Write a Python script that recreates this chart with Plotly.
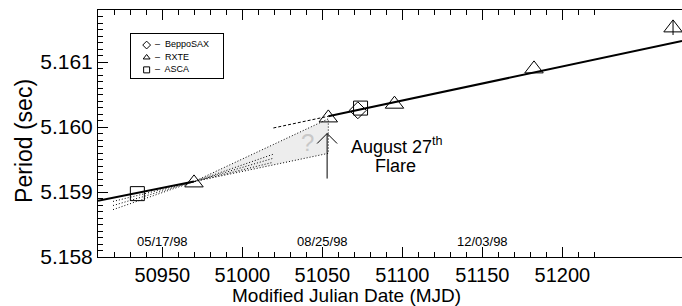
import plotly.graph_objects as go

# ---------------- data ----------------
rxte_mjd = [50969.8, 51053.75, 51095.1, 51182.3, 51269.2]
rxte_p = [5.15914, 5.16014, 5.160351, 5.160894, 5.161525]
rxte_err = [0, 0, 0, 0, 0.00011]

asca_mjd = [50934.4, 51073.9]
asca_p = [5.158975, 5.160291]

sax_mjd = [51072.2]
sax_p = [5.160257]

# solid fits (pre- and post-flare)
fit1_mjd = [50909.8, 50969.8]
fit1_p = [5.158865, 5.159160]
fit2_mjd = [51053.75, 51274.8]
fit2_p = [5.160165, 5.161323]
# dashed backward extrapolation of post-flare fit
ext2_mjd = [51019.4, 51053.75]
ext2_p = [5.159985, 5.160165]

# dotted fan of pre-flare solutions
fan_mjd = [50919.2, 51019.2]
fan_p = [[5.158729, 5.159580], [5.158792, 5.159518], [5.158855, 5.159457]]

# uncertainty wedge up to the flare
wedge_mjd = [50969.8, 51053.75, 51053.75, 50969.8]
wedge_p = [5.15916, 5.160126, 5.159595, 5.15916]

# flare arrow
flare_mjd = 51053.0
arrow_p = [5.159207, 5.159900]

# axis ticks
x_major = [50950, 51000, 51050, 51100, 51150, 51200]
x_minor = [v for v in range(50920, 51221, 10) if v not in x_major]
y_major = [5.158, 5.159, 5.160, 5.161]
y_ticktext = ["5.158", "5.159", "5.160", "5.161"]
y_minor = [round(5.158 + i * 0.0001, 4) for i in range(0, 39) if i % 10 != 0]

date_labels = ["05/17/98", "08/25/98", "12/03/98"]
date_mjd = [50950, 51050, 51150]

legend_names = ["BeppoSAX", "RXTE", "ASCA"]
legend_symbols = ["diamond-open", "triangle-up-open", "square-open"]

FONT = "Liberation Sans, Arial, sans-serif"

fig = go.Figure()

# wedge fill
fig.add_trace(go.Scatter(x=wedge_mjd, y=wedge_p, mode="lines", fill="toself",
                         fillcolor="#ededed", line=dict(width=0), hoverinfo="skip",
                         showlegend=False))
# wedge edges (dotted)
fig.add_trace(go.Scatter(x=wedge_mjd, y=wedge_p, mode="lines",
                         line=dict(color="black", width=1, dash="1px,2px"),
                         showlegend=False))
# fan lines
for fp in fan_p:
    fig.add_trace(go.Scatter(x=fan_mjd, y=fp, mode="lines",
                             line=dict(color="black", width=1, dash="1px,2px"),
                             showlegend=False))
# dashed extension
fig.add_trace(go.Scatter(x=ext2_mjd, y=ext2_p, mode="lines",
                         line=dict(color="black", width=1, dash="3px,2px"),
                         showlegend=False))
# solid fits
fig.add_trace(go.Scatter(x=fit1_mjd, y=fit1_p, mode="lines",
                         line=dict(color="black", width=2), showlegend=False))
fig.add_trace(go.Scatter(x=fit2_mjd, y=fit2_p, mode="lines",
                         line=dict(color="black", width=2), showlegend=False))

# arrow (shaft + open head)
dx = 6.25
dy = 0.000154
arrow_x = [flare_mjd, flare_mjd, None, flare_mjd - dx, flare_mjd, flare_mjd + dx]
arrow_y = [arrow_p[0], arrow_p[1], None, arrow_p[1] - dy, arrow_p[1], arrow_p[1] - dy]
fig.add_trace(go.Scatter(x=arrow_x, y=arrow_y, mode="lines",
                         line=dict(color="black", width=1), showlegend=False))

# markers
fig.add_trace(go.Scatter(x=asca_mjd, y=asca_p, mode="markers",
                         marker=dict(symbol="square-open", size=14, color="black",
                                     line=dict(width=1)), showlegend=False))
fig.add_trace(go.Scatter(x=sax_mjd, y=sax_p, mode="markers",
                         marker=dict(symbol="diamond-open", size=13, color="black",
                                     line=dict(width=1)), showlegend=False))
fig.add_trace(go.Scatter(x=rxte_mjd, y=rxte_p, mode="markers",
                         marker=dict(symbol="triangle-up-open", size=16, color="black",
                                     line=dict(width=1)),
                         error_y=dict(type="data", array=rxte_err, width=0,
                                      color="black", thickness=1),
                         showlegend=False))

# manual legend in a boxed inset
leg_y = [0.75, 0.47, 0.19]
fig.add_trace(go.Scatter(x=[0.17] * 3, y=leg_y, mode="markers",
                         marker=dict(symbol=legend_symbols, size=6, color="black",
                                     line=dict(width=1)),
                         xaxis="x2", yaxis="y2", showlegend=False))
fig.add_trace(go.Scatter(x=[0.26] * 3, y=leg_y, mode="text",
                         text=["\u2013  " + n for n in legend_names],
                         textposition="middle right",
                         textfont=dict(family=FONT, size=9, color="black"),
                         xaxis="x2", yaxis="y2", showlegend=False))

annotations = []
for lab, m in zip(date_labels, date_mjd):
    annotations.append(dict(x=m, y=5.158 + 16 / 65000, xref="x", yref="y", text=lab,
                            showarrow=False, font=dict(family=FONT, size=13, color="black")))
annotations.append(dict(x=51096.4, y=5.158 + 112 / 65000, xref="x", yref="y",
                        text="August 27<sup>th</sup>", showarrow=False,
                        font=dict(family=FONT, size=18, color="black")))
annotations.append(dict(x=51096.0, y=5.158 + 91.5 / 65000, xref="x", yref="y",
                        text="Flare", showarrow=False,
                        font=dict(family=FONT, size=18, color="black")))
annotations.append(dict(x=51041.0, y=5.159760, xref="x", yref="y", text="?",
                        showarrow=False, font=dict(family=FONT, size=24, color="#c8c8c8")))
annotations.append(dict(x=0.426, y=0, xref="paper", yref="paper", yshift=-38,
                        text="Modified Julian Date (MJD)", showarrow=False,
                        yanchor="middle",
                        font=dict(family=FONT, size=19, color="black")))
annotations.append(dict(x=0, y=0.47, xref="paper", yref="paper", xshift=-74,
                        text="Period (sec)", textangle=-90, showarrow=False,
                        xanchor="center",
                        font=dict(family=FONT, size=23, color="black")))

fig.update_layout(
    width=682, height=306,
    margin=dict(l=98, r=0, t=10, b=49),
    paper_bgcolor="white", plot_bgcolor="white",
    showlegend=False,
    annotations=annotations,
    xaxis=dict(range=[50909.8, 51274.8], showgrid=False, zeroline=False,
               showline=True, linecolor="black", linewidth=1, mirror="allticks",
               ticks="inside", ticklen=10, tickwidth=1, tickcolor="black",
               tickvals=x_major, ticktext=[str(v) for v in x_major],
               tickfont=dict(family=FONT, size=20, color="black"),
               minor=dict(tickvals=x_minor, ticks="inside", ticklen=5,
                          tickcolor="black", tickwidth=1, showgrid=False)),
    yaxis=dict(range=[5.158, 5.1618], showgrid=False, zeroline=False,
               showline=True, linecolor="black", linewidth=1,
               ticks="inside", ticklen=10, tickwidth=1, tickcolor="black",
               tickvals=y_major, ticktext=y_ticktext,
               tickfont=dict(family=FONT, size=21, color="black"),
               minor=dict(tickvals=y_minor, ticks="inside", ticklen=5,
                          tickcolor="black", tickwidth=1, showgrid=False)),
    xaxis2=dict(domain=[0.0565, 0.214], anchor="y2", range=[0, 1],
                showline=True, mirror=True, linecolor="black", linewidth=1,
                showticklabels=False, ticks="", showgrid=False, zeroline=False),
    yaxis2=dict(domain=[0.7235, 0.903], anchor="x2", range=[0, 1],
                showline=True, mirror=True, linecolor="black", linewidth=1,
                showticklabels=False, ticks="", showgrid=False, zeroline=False),
)

fig.write_html("out.html", config={"displayModeBar": False},
               post_script="document.body.style.margin='0px';")
